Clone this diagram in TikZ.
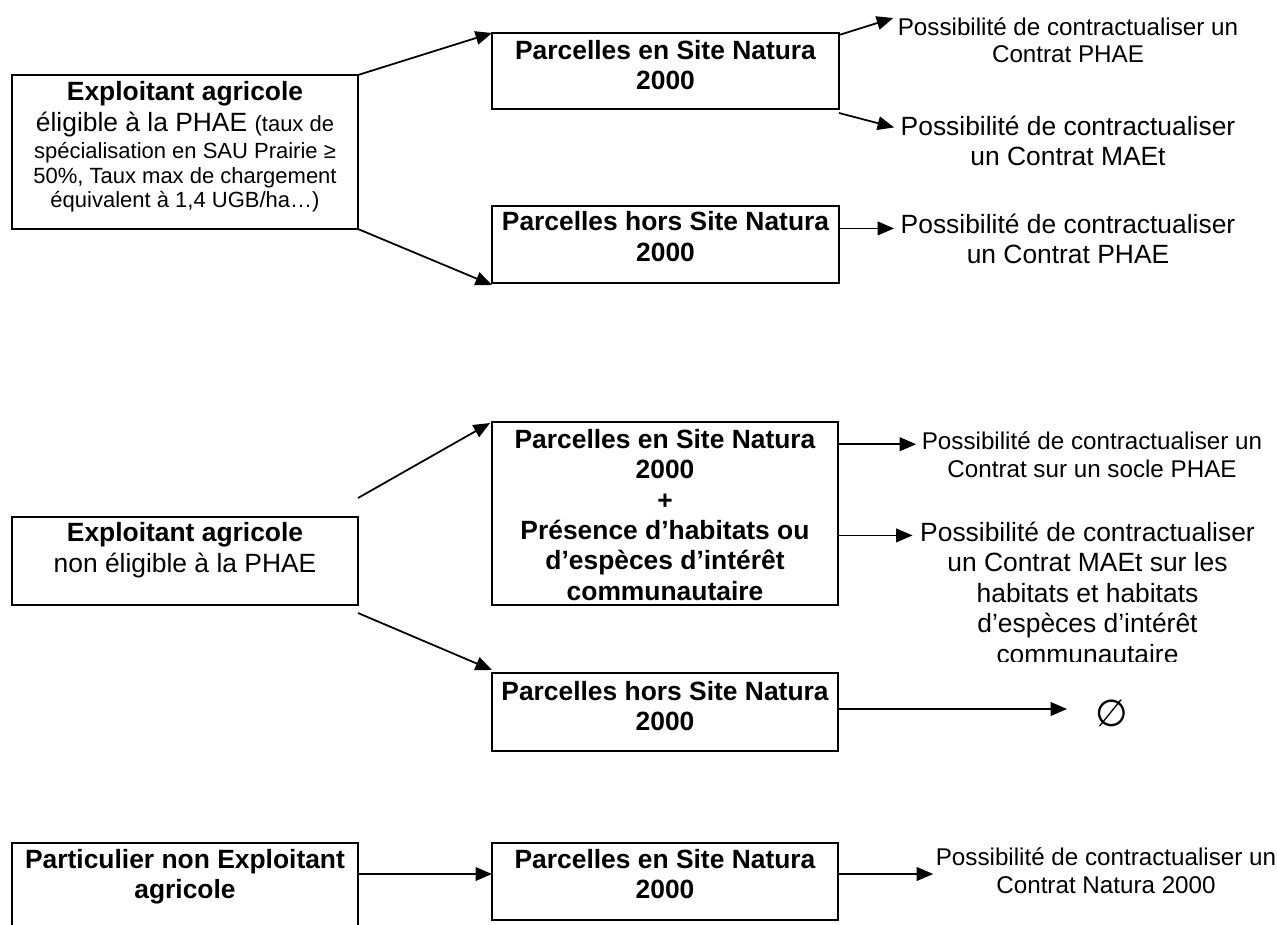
\documentclass[tikz,border=0pt]{standalone}
\usepackage{fontspec}
\setmainfont{Liberation Sans}
\newfontfamily\symfont{DejaVu Sans}
\usetikzlibrary{arrows.meta,calc,fit}
\newlength\pxu
\setlength\pxu{0.454545pt}
\newcommand\sizeXII{\fontsize{12}{14}\selectfont}
\newcommand\sizeXI{\fontsize{11}{13}\selectfont}
\newcommand\sizeX{\fontsize{10}{12}\selectfont}
\begin{document}
\begin{tikzpicture}[x=\pxu,y=-\pxu,
  box/.style={draw, line width=0.95pt, inner sep=0pt, outer sep=0pt},
  txt/.style={anchor=base, inner sep=1pt},
  hd/.style={txt, font=\sizeXII\bfseries},
  tx/.style={txt, font=\sizeXII},
  sm/.style={txt, font=\sizeXI},
  tn/.style={txt, font=\sizeX},
  arr/.style={line width=0.8pt, -{Triangle[length=7.5pt,width=6.2pt]}}]
\useasboundingbox (0,0) rectangle (1277,924);

% boxes
\node[box, fit={(12,75)(358,229)}] (A) {};
\node[box, fit={(492,33)(839,109)}] (B1) {};
\node[box, fit={(492,206)(839,283)}] (B2) {};
\node[box, fit={(12,517)(358,605)}] (D) {};
\node[box, fit={(492,422)(838,605)}] (E) {};
\node[box, fit={(492,673)(838,751)}] (F) {};
\node[box, fit={(12,843)(358,926)}] (G) {};
\node[box, fit={(492,843)(838,920)}] (H) {};

% texts of box A
\node[hd] (A1) at (185,100) {Exploitant agricole};
\node[tx] (A2) at (185,131) {éligible à la PHAE {\sizeX(taux de}};
\node[tn] (A3) at (185,158) {spécialisation en SAU Prairie ≥};
\node[tn] (A4) at (185,183) {50\%, Taux max de chargement};
\node[tn] (A5) at (185,207) {équivalent à 1,4 UGB/ha…)};

% B1, B2
\node[hd] (B1a) at (665.5,59) {Parcelles en Site Natura};
\node[hd] (B1b) at (665.5,89) {2000};
\node[hd] (B2a) at (665.5,230) {Parcelles hors Site Natura};
\node[hd] (B2b) at (665.5,261) {2000};

% C1, C2, C3
\node[sm] (C1a) at (1068,35.5) {Possibilité de contractualiser un};
\node[sm] (C1b) at (1068,62.5) {Contrat PHAE};
\node[tx] (C2a) at (1068,135) {Possibilité de contractualiser};
\node[tx] (C2b) at (1068,165) {un Contrat MAEt};
\node[tx] (C3a) at (1068,233) {Possibilité de contractualiser};
\node[tx] (C3b) at (1068,263.5) {un Contrat PHAE};

% D
\node[hd] (D1) at (185,541) {Exploitant agricole};
\node[tx] (D2) at (185,572) {non éligible à la PHAE};

% E
\node[hd] (E1) at (665,448) {Parcelles en Site Natura};
\node[hd] (E2) at (665,478.4) {2000};
\node[hd] (E3) at (665,509) {+};
\node[hd] (E4) at (665,539) {Présence d’habitats ou};
\node[hd] (E5) at (665,569.6) {d’espèces d’intérêt};
\node[hd] (E6) at (665,600) {communautaire};

% C4, C5
\node[sm] (C4a) at (1092,449) {Possibilité de contractualiser un};
\node[sm] (C4b) at (1092,477) {Contrat sur un socle PHAE};
\node[tx] (C5a) at (1087.5,541) {Possibilité de contractualiser};
\node[tx] (C5b) at (1087.5,571.5) {un Contrat MAEt sur les};
\node[tx] (C5c) at (1087.5,602) {habitats et habitats};
\node[tx] (C5d) at (1087.5,632.5) {d’espèces d’intérêt};
\begin{scope}
\clip (900,640) rectangle (1277,661);
\node[tx] (C5e) at (1087.5,663) {communautaire};
\end{scope}

% F and empty set
\node[hd] (F1) at (665,700) {Parcelles hors Site Natura};
\node[hd] (F2) at (665,730) {2000};
\node[inner sep=1pt, font=\symfont\fontsize{17}{19}\selectfont] (N) at (1112,713) {∅};

% G, H, C6
\node[hd] (G1) at (185,868) {Particulier non Exploitant};
\node[hd] (G2) at (185,898.4) {agricole};
\node[hd] (H1) at (665,868) {Parcelles en Site Natura};
\node[hd] (H2) at (665,898.4) {2000};
\node[sm] (C6a) at (1106,865.5) {Possibilité de contractualiser un};
\node[sm] (C6b) at (1106,893.5) {Contrat Natura 2000};

% connectors
\draw[arr] (A.north east) -- (B1.north west);
\draw[arr] (A.south east) -- ($(B2.south west)+(0,2)$);
\draw[arr] ($(B1.north east)+(0,2)$) -- ($(C1a.north west)+(-2,3)$);
\draw[arr] ($(B1.south east)+(0,4)$) -- ($(C2a.west)+(-4,2)$);
\coordinate (C3t) at ($(C3a.west)+(-4,5)$);
\draw[arr] (B2.east |- C3t) -- (C3t);

\draw[arr] ($(D.north east)+(0,-19)$) -- ($(E.north west)+(-2,1)$);
\draw[arr] ($(D.south east)+(0,8)$) -- ($(F.north west)+(0,-3)$);
\coordinate (C4t) at ($(C4a.west)+(-3,4)$);
\draw[arr] (E.east |- C4t) -- (C4t);
\coordinate (C5t) at ($(C5a.west)+(-5,4)$);
\draw[arr] (E.east |- C5t) -- (C5t);
\coordinate (Nt) at ($(N.west)+(-26,-4)$);
\draw[arr] (F.east |- Nt) -- (Nt);

\coordinate (GHy) at (0,874);
\draw[arr] (G.east |- GHy) -- (H.west |- GHy);
\draw[arr] (H.east |- GHy) -- (C6a.west |- GHy);
\end{tikzpicture}
\end{document}
